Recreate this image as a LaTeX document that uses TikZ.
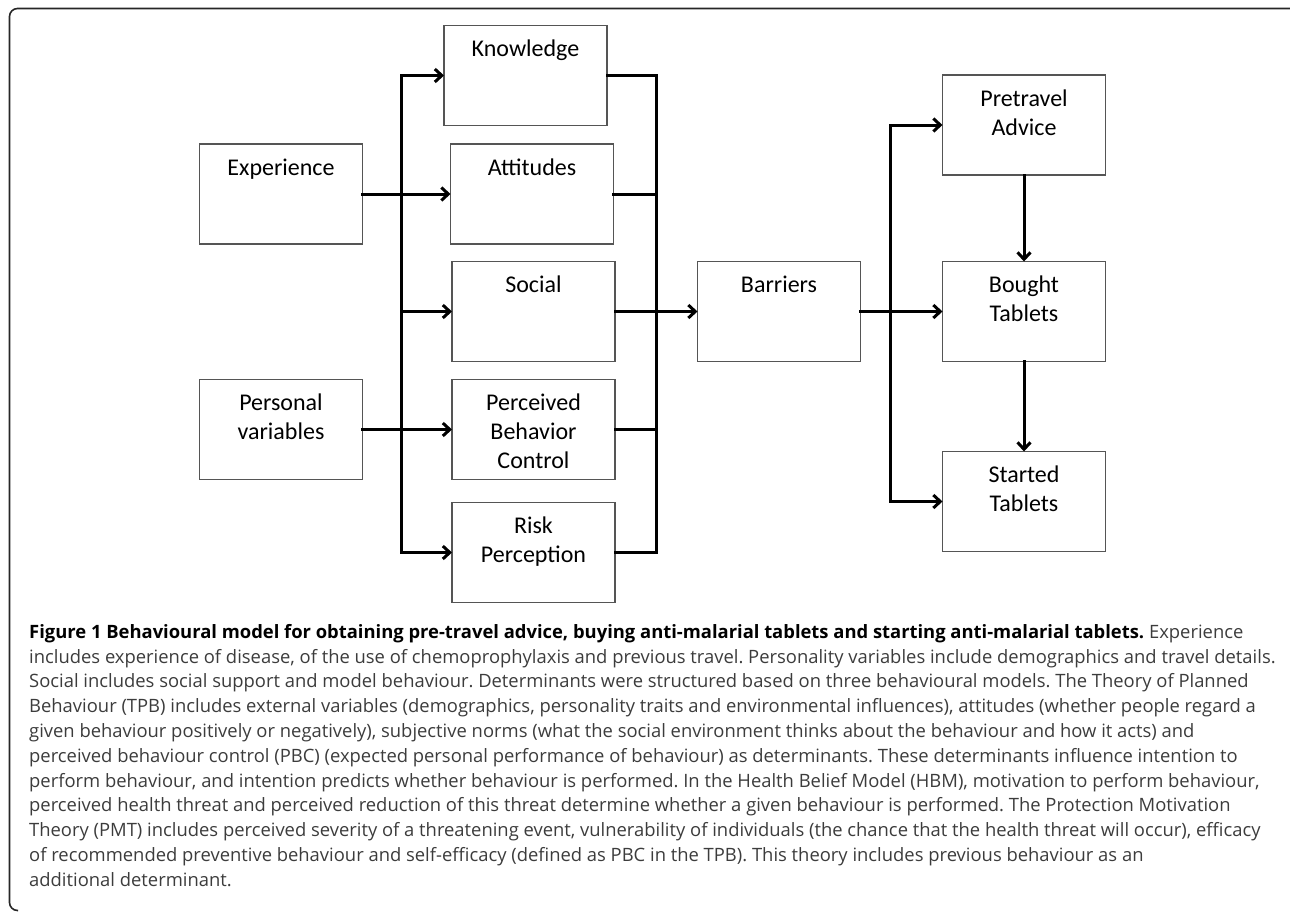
\documentclass[tikz,border=0pt]{standalone}
\usepackage{fontspec}
\setmainfont{Carlito}
\newfontfamily\capfont{Open Sans}
\usetikzlibrary{arrows.meta,calc}
\definecolor{boxline}{RGB}{85,85,85}
\definecolor{captext}{RGB}{60,60,60}
\newcommand{\bt}[1]{\parbox[c][100pt][t]{163pt}{\centering\fontsize{24pt}{29pt}\selectfont\rule{0pt}{31pt}#1}}
\begin{document}
\frenchspacing
\begin{tikzpicture}[x=1pt,y=-1pt,
  box/.style={draw=boxline, line width=1.5pt, inner sep=0pt, outer sep=0pt},
  conn/.style={line width=3pt, line cap=rect, line join=miter},
  arr/.style={conn, -{Straight Barb[length=7pt,width=13pt]}},
  frame/.style={draw=black!85, line width=1.6pt, rounded corners=8pt}]
\useasboundingbox (0,0) rectangle (1290,916);
% frame
\draw[frame] (1298,30) -- (1298,8.5) -- (9.5,8.5) -- (9.5,910.5) -- (18,910.5);
% boxes
\node[box] (kn)  at (525.5,75.5)  {\bt{Knowledge}};
\node[box] (ex)  at (281,194)     {\bt{Experience}};
\node[box] (at)  at (532,194)     {\bt{Attitudes}};
\node[box] (so)  at (533.5,311.5) {\bt{Social}};
\node[box] (pv)  at (281,429.5)   {\bt{Personal\\variables}};
\node[box] (pbc) at (533.5,429.5) {\bt{Perceived\\Behavior\\Control}};
\node[box] (rp)  at (533.5,552.5) {\bt{Risk\\Perception}};
\node[box] (ba)  at (779,311.5)   {\bt{Barriers}};
\node[box] (pa)  at (1024,125)    {\bt{Pretravel\\Advice}};
\node[box] (bt)  at (1024,311.5)  {\bt{Bought\\Tablets}};
\node[box] (st)  at (1024,501.5)  {\bt{Started\\Tablets}};
% bus coordinates
\coordinate (busL) at (401,0);
\coordinate (busR) at (656,0);
\coordinate (busB) at (890,0);
% left bus
\draw[arr] (busL |- rp.west) -- (busL |- kn.west) -- (kn.west);
\draw[arr] (busL |- kn.west) -- (busL |- rp.west) -- (rp.west);
\draw[arr] (busL |- so.west) -- (so.west);
\draw[arr] (ex.east) -- (at.west);
\draw[arr] (pv.east) -- (pbc.west);
% right bus
\draw[conn] (kn.east) -- (busR |- kn.east) -- (busR |- rp.east) -- (rp.east);
\draw[conn] (at.east) -- (busR |- at.east);
\draw[conn] (pbc.east) -- (busR |- pbc.east);
\draw[arr] (so.east) -- (ba.west);
% outcome bus
\draw[arr] (ba.east) -- (bt.west);
\draw[arr] (busB |- st.west) -- (busB |- pa.west) -- (pa.west);
\draw[arr] (busB |- pa.west) -- (busB |- st.west) -- (st.west);
\draw[arr] (pa.south) -- (bt.north);
\draw[arr] (bt.south) -- (st.north);
% caption
\node[anchor=north west, align=left, inner sep=0pt, text=captext,
      font=\capfont\fontsize{18.4pt}{24.8pt}\selectfont] (cap) at (29,624)
{{\color{black}\bfseries Figure 1 Behavioural model for obtaining pre-travel advice, buying anti-malarial tablets and starting anti-malarial tablets.} Experience\\
includes experience of disease, of the use of chemoprophylaxis and previous travel. Personality variables include demographics and travel details.\\
Social includes social support and model behaviour. Determinants were structured based on three behavioural models. The Theory of Planned\\
Behaviour (TPB) includes external variables (demographics, personality traits and environmental influences), attitudes (whether people regard a\\
given behaviour positively or negatively), subjective norms (what the social environment thinks about the behaviour and how it acts) and\\
perceived behaviour control (PBC) (expected personal performance of behaviour) as determinants. These determinants influence intention to\\
perform behaviour, and intention predicts whether behaviour is performed. In the Health Belief Model (HBM), motivation to perform behaviour,\\
perceived health threat and perceived reduction of this threat determine whether a given behaviour is performed. The Protection Motivation\\
Theory (PMT) includes perceived severity of a threatening event, vulnerability of individuals (the chance that the health threat will occur), efficacy\\
of recommended preventive behaviour and self-efficacy (defined as PBC in the TPB). This theory includes previous behaviour as an\\
additional determinant.};
\end{tikzpicture}
\end{document}
